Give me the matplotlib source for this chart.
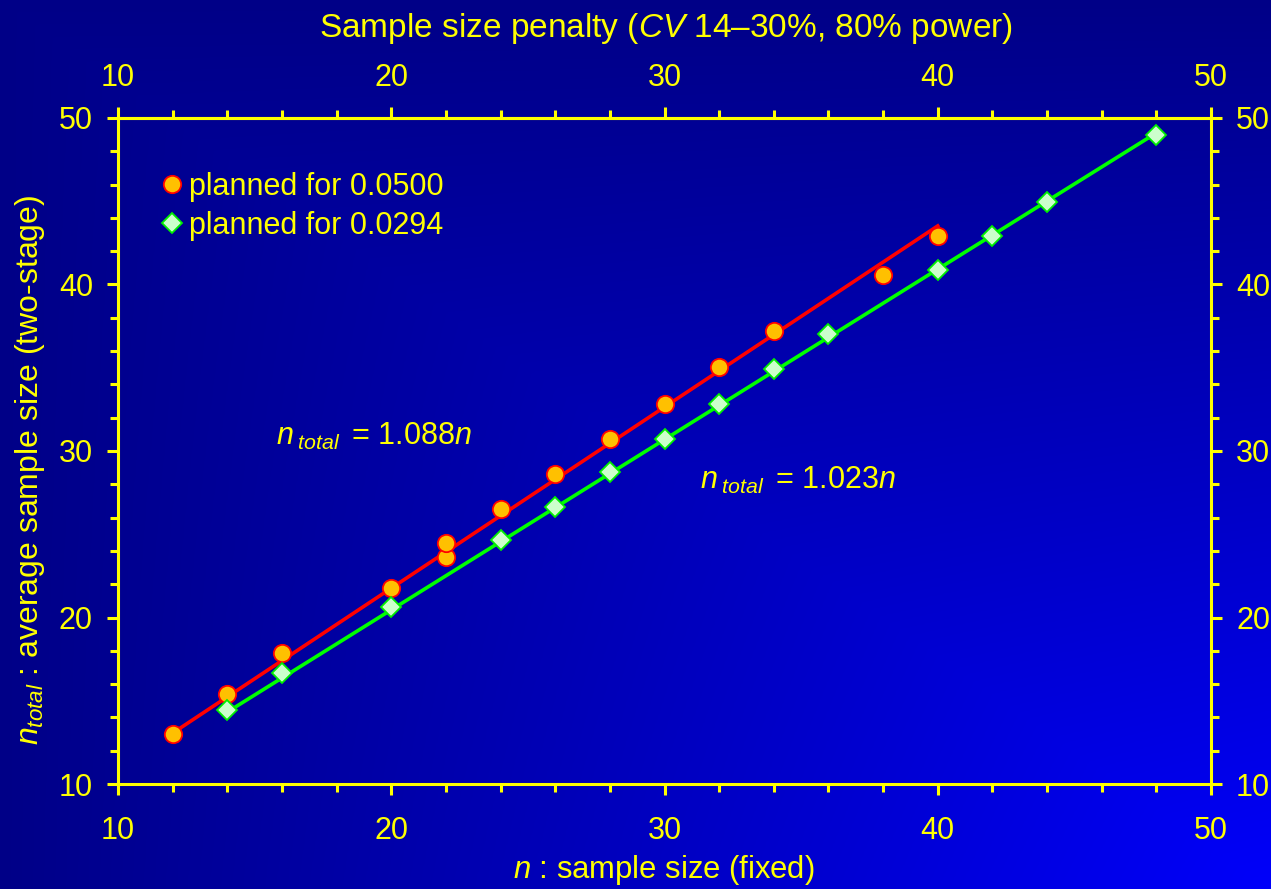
import numpy as np
import matplotlib
matplotlib.use("Agg")
import matplotlib.pyplot as plt
from matplotlib.ticker import MultipleLocator

plt.rcParams['font.family'] = ['Liberation Sans', 'DejaVu Sans']
plt.rcParams['mathtext.fontset'] = 'custom'
plt.rcParams['mathtext.rm'] = 'Liberation Sans'
plt.rcParams['mathtext.it'] = 'Liberation Sans:italic'

# ---- data ----
n_red = [12, 14, 16, 20, 22, 22, 24, 26, 28, 30, 32, 34, 38, 40]
ntot_red = [13.0, 15.4, 17.85, 21.75, 23.65, 24.5, 26.5, 28.6, 30.7, 32.8, 35.05, 37.2, 40.6, 42.9]
n_green = [14, 16, 20, 24, 26, 28, 30, 32, 34, 36, 40, 42, 44, 48]
ntot_green = [14.45, 16.65, 20.65, 24.65, 26.65, 28.75, 30.7, 32.8, 34.9, 37.0, 40.85, 42.9, 44.95, 48.95]
slope_red = 1.088
slope_green = 1.023
fit_range_red = [12, 40]
fit_range_green = [14, 48]
legend_labels = ['planned for 0.0500', 'planned for 0.0294']
ticks = [10, 20, 30, 40, 50]

YEL = '#FFFF00'
W, H = 1271, 889
fig = plt.figure(figsize=(W / 100, H / 100), dpi=100)

# background gradient
bg = fig.add_axes([0, 0, 1, 1], zorder=-10)
xx, yy = np.meshgrid(np.linspace(0, 1, 400), np.linspace(0, 1, 300))
f = 0.6 * np.minimum(xx, yy) + 0.4 * (xx * yy)
f = np.clip(f, 0, 1)
img = np.zeros(xx.shape + (3,))
img[..., 2] = 0.53 + 0.45 * f
bg.imshow(img, aspect='auto', extent=[0, 1, 0, 1], origin='upper')
bg.axis('off')

ax = fig.add_axes([118 / W, 1 - 784 / H, (1211 - 118) / W, (784 - 118) / H])
ax.patch.set_alpha(0)

xr = np.array(fit_range_red)
xg = np.array(fit_range_green)
ax.plot(xr, slope_red * xr, color='#FF0000', lw=2.6, zorder=2)
ax.plot(xg, slope_green * xg, color='#00FF00', lw=2.6, zorder=2)
ax.plot(n_red, ntot_red, 'o', ms=12.5, mfc='#FFC000', mec='#FF0000', mew=1.3,
        zorder=3, label=legend_labels[0])
ax.plot(n_green, ntot_green, 'D', ms=10.5, mfc='#CCFFCC', mec='#00EE00', mew=1.3,
        zorder=3, label=legend_labels[1])

ax.set_xlim(10, 50)
ax.set_ylim(10, 50)
ax.set_xticks(ticks)
ax.set_yticks(ticks)
ax.xaxis.set_minor_locator(MultipleLocator(2))
ax.yaxis.set_minor_locator(MultipleLocator(2))
for s in ax.spines.values():
    s.set_color(YEL)
    s.set_linewidth(2.2)
ax.tick_params(which='both', direction='out', colors=YEL, width=2.2,
               top=False, right=True, labeltop=False, labelright=True,
               labelsize=22, labelcolor=YEL)
ax.tick_params(which='major', length=8)
ax.tick_params(which='minor', length=5.5)
ax.tick_params(axis='x', which='major', pad=15)
ax.tick_params(axis='y', which='major', pad=10)

# top axis (same scale)
top = ax.secondary_xaxis('top')
top.set_xticks(ticks)
top.xaxis.set_minor_locator(MultipleLocator(2))
top.spines['top'].set_color(YEL)
top.spines['top'].set_linewidth(2.2)
top.tick_params(which='both', direction='out', colors=YEL, width=2.2,
                labelsize=22, labelcolor=YEL)
top.tick_params(which='major', length=8, pad=10)
top.tick_params(which='minor', length=5.5)

leg = ax.legend(loc='upper left', bbox_to_anchor=(0.024, 0.938), frameon=False,
                fontsize=22, labelcolor=YEL, handletextpad=0.08, handlelength=1.0,
                borderaxespad=0, labelspacing=0.30)

fig.text(276 / W, 1 - 445 / H, r'$n\,_{total}\,$ = 1.088$n$', color=YEL, fontsize=22,
         ha='left', va='baseline')
fig.text(700 / W, 1 - 489 / H, r'$n\,_{total}\,$ = 1.023$n$', color=YEL, fontsize=22,
         ha='left', va='baseline')

fig.text(666 / W, 1 - 28 / H, r'Sample size penalty ($CV$ 14–30%, 80% power)',
         color=YEL, fontsize=24, ha='center', va='center')
fig.text(664 / W, 1 - 870 / H, r'$n$ : sample size (fixed)', color=YEL, fontsize=22.3,
         ha='center', va='center')
fig.text(30 / W, 1 - 470 / H, r'$n_{total}$ : average sample size (two-stage)', color=YEL,
         fontsize=23, ha='center', va='center', rotation=90)

fig.savefig('out.png', dpi=100)
